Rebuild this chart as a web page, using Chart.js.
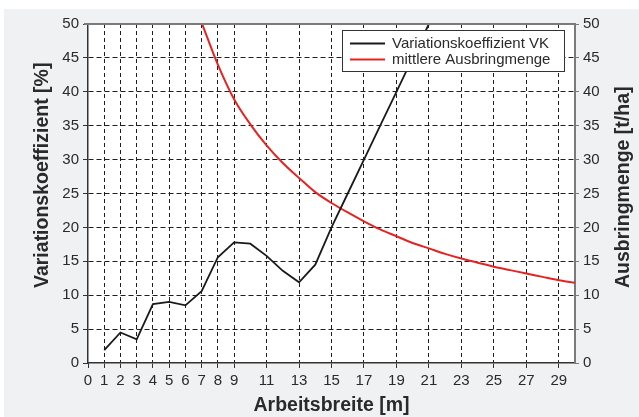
<!DOCTYPE html>
<html>
<head>
<meta charset="utf-8">
<script src="https://cdn.jsdelivr.net/npm/chart.js@4/dist/chart.umd.min.js"></script>
<style>
    html, body { margin: 0; padding: 0; background: #fff; }
    #wrap { width: 639px; height: 417px; }
</style>
</head>
<body>
<div id="wrap"><canvas id="vk-chart" width="639" height="417"></canvas></div>
<script>
// Arbeitsbreite [m] und Messwerte
const vkBreite = [1, 2, 3, 4, 5, 6, 7, 8, 9, 10, 11, 12, 13, 14, 15, 16, 17, 18, 19, 20, 21];
const vkWerte = [1.9, 4.5, 3.5, 8.7, 9.0, 8.5, 10.6, 15.6, 17.8, 17.6, 15.8, 13.6, 11.9, 14.5, 20, 25, 30, 35, 40, 45, 50];

const mengeBreite = [7, 8, 9, 10, 11, 12, 13, 14, 15, 16, 17, 18, 19, 20, 21, 22, 23, 24, 25, 26, 27, 28, 29, 30];
const mengeWerte = [50.2, 44.0, 38.9, 35.2, 32.1, 29.5, 27.3, 25.2, 23.6, 22.2, 20.9, 19.7, 18.7, 17.7, 16.9, 16.1, 15.4, 14.8, 14.2, 13.7, 13.2, 12.7, 12.2, 11.85];

const xTicks = [0, 1, 2, 3, 4, 5, 6, 7, 8, 9, 11, 13, 15, 17, 19, 21, 23, 25, 27, 29];

const FONT = "'Liberation Sans', Arial, Helvetica, sans-serif";
const TEXT = '#2a2a2a';
const GRID = '#1e1e1e';
const TITLE_FONT = 'bold 19.5px ' + FONT;

// Hintergrund: weisser Rand oben/links, grauer Kasten, weisse Zeichenflaeche
const backgroundPlugin = {
    id: 'background',
    beforeDraw(chart) {
        const { ctx, chartArea } = chart;
        ctx.save();
        ctx.fillStyle = '#ffffff';
        ctx.fillRect(0, 0, chart.width, chart.height);
        ctx.fillStyle = '#f0f1f3';
        ctx.fillRect(4, 9, chart.width - 4, chart.height - 9);
        ctx.fillStyle = '#ffffff';
        ctx.fillRect(chartArea.left, chartArea.top, chartArea.right - chartArea.left, chartArea.bottom - chartArea.top);
        ctx.restore();
    }
};

// Achsentitel links/rechts, beide von unten nach oben gelesen
const sideTitlesPlugin = {
    id: 'sideTitles',
    afterDraw(chart) {
        const { ctx } = chart;
        const titles = [
            { text: 'Variationskoeffizient [%]', x: 42.5 },
            { text: 'Ausbringmenge [t/ha]', x: 623.5 }
        ];
        ctx.save();
        ctx.font = TITLE_FONT;
        ctx.fillStyle = TEXT;
        ctx.textAlign = 'left';
        ctx.textBaseline = 'middle';
        titles.forEach(t => {
            ctx.save();
            ctx.translate(t.x, 288);
            ctx.rotate(-Math.PI / 2);
            ctx.fillText(t.text, 0, 0);
            ctx.restore();
        });
        ctx.restore();
    }
};

// Rahmen oben und Legende im Diagramm
const frameLegendPlugin = {
    id: 'frameLegend',
    afterDatasetsDraw(chart) {
        const { ctx, chartArea } = chart;
        ctx.save();
        ctx.strokeStyle = '#7b7b7b';
        ctx.lineWidth = 2;
        ctx.beginPath();
        ctx.moveTo(chartArea.left - 4, chartArea.top);
        ctx.lineTo(chartArea.right + 1, chartArea.top);
        ctx.stroke();

        const bx = 342.5, by = 30.5, bw = 222, bh = 41;
        ctx.fillStyle = '#ffffff';
        ctx.fillRect(bx, by, bw, bh);
        ctx.strokeStyle = '#333333';
        ctx.lineWidth = 1;
        ctx.strokeRect(bx, by, bw, bh);

        const items = [
            { text: 'Variationskoeffizient VK', color: '#1a1a1a', y: 43.5 },
            { text: 'mittlere Ausbringmenge', color: '#e52421', y: 59.5 }
        ];
        ctx.font = '15px ' + FONT;
        ctx.textBaseline = 'middle';
        items.forEach(item => {
            ctx.strokeStyle = item.color;
            ctx.lineWidth = 2;
            ctx.beginPath();
            ctx.moveTo(350, item.y);
            ctx.lineTo(385, item.y);
            ctx.stroke();
            ctx.fillStyle = TEXT;
            ctx.fillText(item.text, 392, item.y + 0.5);
        });
        ctx.restore();
    }
};

const canvas = document.getElementById('vk-chart');

new Chart(canvas, {
    type: 'line',
    data: {
        datasets: [
            {
                label: 'Variationskoeffizient VK',
                data: vkBreite.map((x, i) => ({ x: x, y: vkWerte[i] })),
                borderColor: '#1a1a1a',
                borderWidth: 1.8,
                pointRadius: 0,
                tension: 0,
                yAxisID: 'y'
            },
            {
                label: 'mittlere Ausbringmenge',
                data: mengeBreite.map((x, i) => ({ x: x, y: mengeWerte[i] })),
                borderColor: '#e52421',
                borderWidth: 2,
                pointRadius: 0,
                cubicInterpolationMode: 'monotone',
                yAxisID: 'y2'
            }
        ]
    },
    options: {
        responsive: false,
        animation: false,
        layout: { padding: { top: 24, left: 0, right: 0, bottom: 0 } },
        plugins: {
            legend: { display: false },
            tooltip: { enabled: false }
        },
        scales: {
            x: {
                type: 'linear',
                min: 0,
                max: 30,
                afterBuildTicks: scale => {
                    scale.ticks = xTicks.map(v => ({ value: v }));
                },
                afterFit: scale => { scale.height = 54; },
                ticks: {
                    color: TEXT,
                    font: { family: FONT, size: 15 },
                    padding: 4,
                    maxRotation: 0,
                    autoSkip: false,
                    callback: v => v
                },
                grid: {
                    color: ctx => ctx.tick && ctx.tick.value === 0 ? 'rgba(0,0,0,0)' : GRID,
                    tickColor: '#333',
                    tickLength: 5,
                    tickBorderDash: []
                },
                border: { color: '#333', width: 1.5, dash: [4, 3] },
                title: {
                    display: true,
                    text: 'Arbeitsbreite [m]',
                    color: TEXT,
                    font: { family: FONT, size: 19.5, weight: 'bold' },
                    padding: { top: 0, bottom: 0 }
                }
            },
            y: {
                position: 'left',
                min: 0,
                max: 50,
                afterFit: scale => { scale.width = 88; },
                ticks: {
                    stepSize: 5,
                    color: TEXT,
                    font: { family: FONT, size: 15 },
                    padding: 4
                },
                grid: {
                    color: ctx => ctx.tick && (ctx.tick.value === 0 || ctx.tick.value === 50) ? 'rgba(0,0,0,0)' : GRID,
                    tickColor: '#333',
                    tickLength: 5,
                    tickBorderDash: []
                },
                border: { color: '#333', width: 1.5, dash: [5, 3] }
            },
            y2: {
                position: 'right',
                min: 0,
                max: 50,
                afterFit: scale => { scale.width = 64; },
                ticks: {
                    stepSize: 5,
                    color: TEXT,
                    font: { family: FONT, size: 15 },
                    padding: 4
                },
                grid: {
                    drawOnChartArea: false,
                    tickColor: '#7b7b7b',
                    tickLength: 4
                },
                border: { color: '#7b7b7b', width: 2 }
            }
        }
    },
    plugins: [backgroundPlugin, frameLegendPlugin, sideTitlesPlugin]
});
</script>
</body>
</html>
